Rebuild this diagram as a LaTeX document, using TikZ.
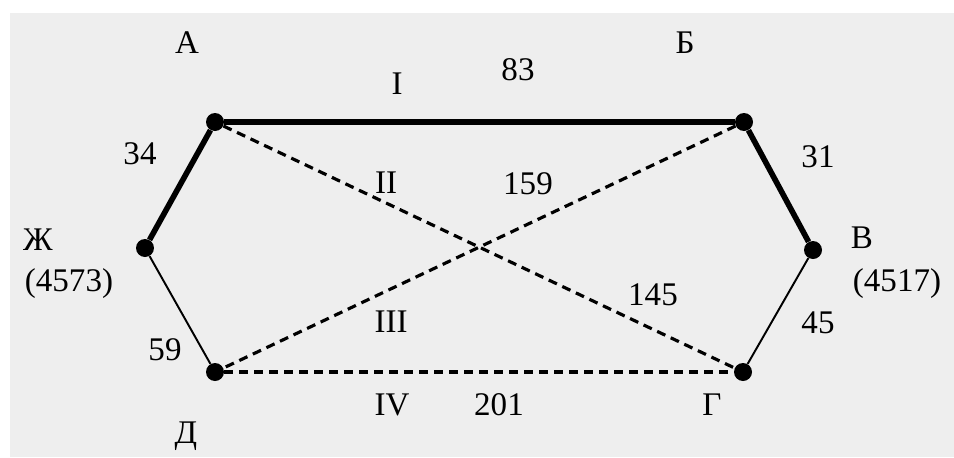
\documentclass[tikz,border=0pt]{standalone}
\usepackage{fontspec}
\setmainfont{Liberation Serif}
\definecolor{bggray}{HTML}{EEEEEE}
\begin{document}
\begin{tikzpicture}[x=0.02cm,y=-0.02cm,
  dot/.style={circle,fill=black,inner sep=0pt,minimum size=0.36cm},
  thickedge/.style={line width=3.2pt},
  thinedge/.style={line width=1.1pt},
  dashedge/.style={line width=1.8pt,dash pattern=on 0.18cm off 0.12cm},
  lbl/.style={anchor=base,inner sep=0pt,font=\fontsize{18.8pt}{22pt}\selectfont}]
\useasboundingbox (0,0) rectangle (954,457);
\fill[white] (0,0) rectangle (954,457);
\fill[bggray] (10,13) rectangle (954,457);
% vertices
\node[dot] (A) at (215,122) {};
\node[dot] (B) at (744,122) {};
\node[dot] (V) at (813,250) {};
\node[dot] (G) at (743,372) {};
\node[dot] (D) at (215,372) {};
\node[dot] (Zh) at (145,248) {};
% edges
\draw[thickedge] (Zh) -- (A);
\draw[thickedge] (A) -- (B);
\draw[thickedge] (B) -- (V);
\draw[thinedge] (V) -- (G);
\draw[thinedge] (Zh) -- (D);
\draw[dashedge] (A) -- (G);
\draw[dashedge] (B) -- (D);
\draw[dashedge] (D) -- (G);
% vertex labels
\node[lbl] (lA) at (187,53) {А};
\node[lbl] (lB) at (685,53) {Б};
\node[lbl] (lZh) at (38,250) {Ж};
\node[lbl] (lZhv) at (69,291) {(4573)};
\node[lbl] (lV) at (862,248) {В};
\node[lbl] (lVv) at (897,291) {(4517)};
\node[lbl] (lG) at (712,415) {Г};
\node[lbl] (lD) at (186,443) {Д};
% edge labels
\node[lbl] (r1) at (397,94) {I};
\node[lbl] (w83) at (518,80) {83};
\node[lbl] (w34) at (140,164) {34};
\node[lbl] (r2) at (386,193) {II};
\node[lbl] (w159) at (528,194) {159};
\node[lbl] (w31) at (818,167) {31};
\node[lbl] (r3) at (391,332) {III};
\node[lbl] (w145) at (653,305) {145};
\node[lbl] (w45) at (818,333) {45};
\node[lbl] (w59) at (165,360) {59};
\node[lbl] (r4) at (392,415) {IV};
\node[lbl] (w201) at (499,415) {201};
\end{tikzpicture}
\end{document}
